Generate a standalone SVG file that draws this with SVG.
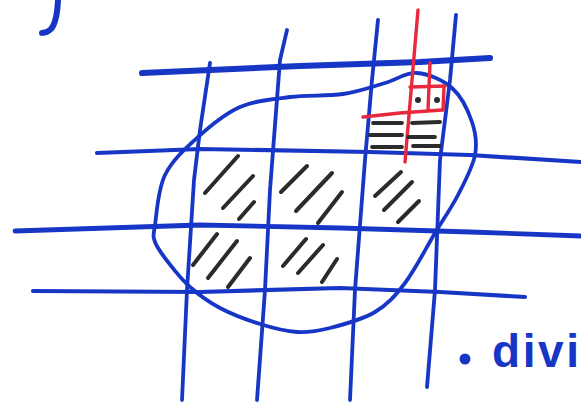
<svg xmlns="http://www.w3.org/2000/svg" width="581" height="404" viewBox="0 0 581 404">
<style>
.b{fill:none;stroke:#1736c6;stroke-linecap:round;stroke-linejoin:round}
.r{fill:none;stroke:#e8283c;stroke-width:3.4;stroke-linecap:round;stroke-linejoin:round}
.k{fill:none;stroke:#2b2b2b;stroke-width:4;stroke-linecap:round}
.d{fill:none;stroke:#2b2b2b;stroke-width:3.8;stroke-linecap:round}
</style>
<rect width="581" height="404" fill="#ffffff"/>
<g id="j-mark">
<path class="b" stroke-width="6" d="M58 0 Q57 22 51 29 Q47 33 42 33"/>
</g>
<g id="grid">
<polyline class="b" stroke-width="6" points="142,73 300,66 420,62 490,58"/>
<polyline class="b" stroke-width="4.2" points="97,153 200,149 370,152 470,155 581,162"/>
<polyline class="b" stroke-width="4.8" points="15,231 200,225 340,228 470,232 581,236"/>
<polyline class="b" stroke-width="4.2" points="33,291 200,292 340,288 440,292 525,297"/>
<polyline class="b" stroke-width="3.8" points="210,63 200,130 194,180 187,290 182,400"/>
<polyline class="b" stroke-width="3.8" points="287,30 280,60 270,190 265,290 257,400"/>
<polyline class="b" stroke-width="3.8" points="378,20 372,80 365,160 355,290 350,400"/>
<polyline class="b" stroke-width="3.8" points="456,15 450,80 440,160 435,290 427,387"/>
</g>
<g id="region">
<path class="b" stroke-width="3.8" d="M155 225 C156.7 213.8 157.8 189.7 165 175 C172.2 160.3 185.5 148.3 198 137 C210.5 125.7 224.7 113.7 240 107 C255.3 100.3 272.8 99.2 290 97 C307.2 94.8 327.2 96.3 343 94 C358.8 91.7 372.7 86.5 385 83 C397.3 79.5 405.8 72.2 417 73 C428.2 73.8 442.8 79.8 452 88 C461.2 96.2 468.2 110.8 472 122 C475.8 133.2 477.3 142.8 475 155 C472.7 167.2 464.7 182 458 195 C451.3 208 443.8 218.3 435 233 C426.2 247.7 415 269.8 405 283 C395 296.2 387.5 304.5 375 312 C362.5 319.5 343 324.7 330 328 C317 331.3 308.7 332.7 297 332 C285.3 331.3 272.8 328 260 324 C247.2 320 231.7 314.2 220 308 C208.3 301.8 198.7 294.7 190 287 C181.3 279.3 173.8 269.5 168 262 C162.2 254.5 157.2 248.2 155 242 C152.8 235.8 153.3 236.2 155 225 Z"/>
</g>
<g id="hatching">
<path class="k" d="M205 193 L238 156 M223 208 L253 176 M239 219 L254 202"/>
<path class="k" d="M281 192 L307 166 M296 211 L332 173 M318 223 L342 192"/>
<path class="k" d="M375 196 L401 172 M384 210 L412 182 M398 222 L419 201"/>
<path class="k" d="M193 265 L217 234 M208 278 L237 241 M228 287 L250 258"/>
<path class="k" d="M283 266 L306 239 M298 273 L323 245 M322 282 L337 259"/>
</g>
<g id="refined-cell">
<path class="r" d="M418 10 L405 162"/>
<path class="r" d="M363 117 L400 113 L442 110"/>
<path class="r" d="M430 63 L428 110"/>
<path class="r" d="M410 87 L445 86"/>
<path class="r" d="M444 87 L443 110"/>
<circle cx="418" cy="100" r="3" fill="#2b2b2b"/>
<circle cx="437" cy="100" r="3" fill="#2b2b2b"/>
<path class="d" d="M373 123 L402 123 M412 123 L440 122 M370 135 L402 135 M408 137 L435 137 M372 147 L402 147 M413 146 L440 146"/>
</g>
<g id="label">
<circle cx="465" cy="359" r="5.5" fill="#1736c6"/>
<text x="492" y="367" font-family="Liberation Sans, Arial, sans-serif" font-weight="bold" font-size="46" fill="#1736c6" textLength="87" lengthAdjust="spacing">divi</text>
</g>
</svg>
